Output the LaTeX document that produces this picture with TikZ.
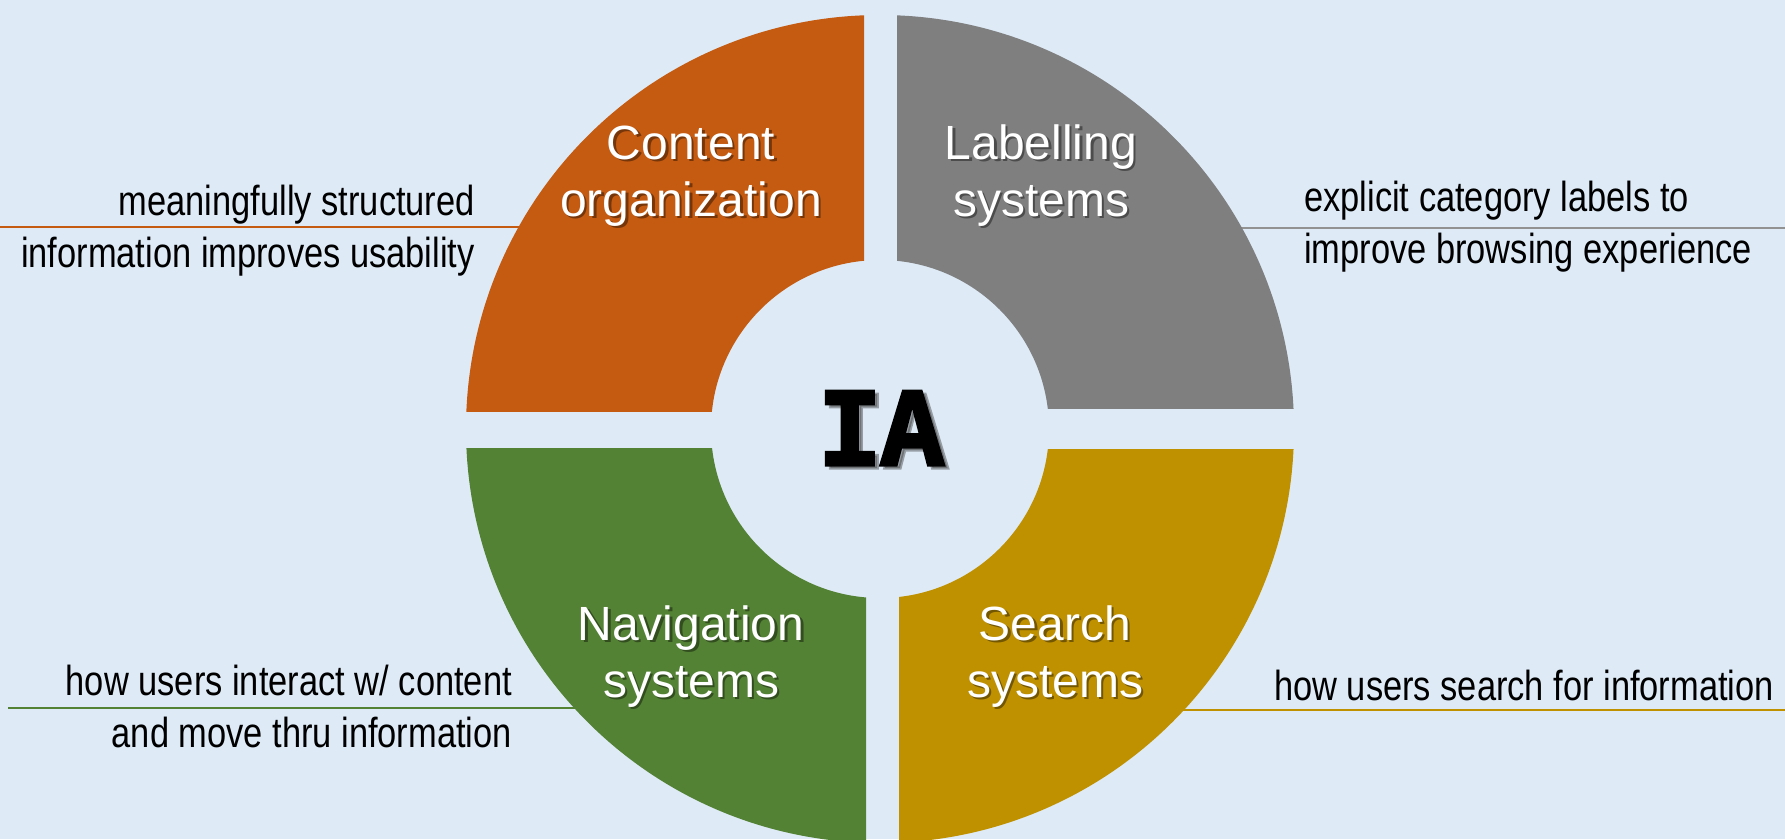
\documentclass[tikz,border=0pt]{standalone}
\usepackage{fontspec}
\setmainfont{Liberation Sans}
\newfontfamily\narrowfont{Liberation Sans}[FakeStretch=0.82]
\newfontfamily\iafont{Liberation Mono}[BoldFeatures={FakeBold=3,FakeStretch=0.93}]
\definecolor{bgblue}{HTML}{DEEBF7}
\definecolor{corange}{HTML}{C55A11}
\definecolor{cgray}{HTML}{7F7F7F}
\definecolor{cgreen}{HTML}{548235}
\definecolor{cgold}{HTML}{BF9000}
\tikzset{
  annot/.style={font=\narrowfont\fontsize{42}{52}\selectfont, inner sep=0pt, text=black},
  seglabel/.style={font=\fontsize{48}{57}\selectfont, align=center, text=white, inner sep=0pt},
  segshadow/.style={seglabel, text=black, opacity=0.4},
  iatext/.style={font=\iafont\bfseries\fontsize{112}{112}\selectfont, inner sep=0pt, anchor=base},
  link/.style={line width=1.4pt},
  sector/.style={even odd rule},
}
\begin{document}
\begin{tikzpicture}[x=1pt,y=-1pt]
\fill[bgblue] (0,0) rectangle (1785,839);
\useasboundingbox (0,0) rectangle (1785,839);
\coordinate (C) at (880,429);

% connectors (drawn first, their inner ends hidden under the sectors)
\coordinate (lo1) at (0,227);    \coordinate (lo2) at (530,227);
\coordinate (lg1) at (1232,228); \coordinate (lg2) at (1785,228);
\coordinate (ln1) at (8,708);    \coordinate (ln2) at (584,708);
\coordinate (ls1) at (1176,710); \coordinate (ls2) at (1785,710);
\draw[link, draw=corange] (lo1) -- (lo2);
\draw[link, draw=cgray!85] (lg1) -- (lg2);
\draw[link, draw=cgreen] (ln1) -- (ln2);
\draw[link, draw=cgold] (ls1) -- (ls2);

% sectors
\begin{scope}
  \clip (0,0) rectangle (864,411);
  \fill[corange, sector] (C) circle[radius=414pt] (C) circle[radius=169pt];
\end{scope}
\begin{scope}
  \clip (897,0) rectangle (1785,408);
  \fill[cgray, sector] (C) circle[radius=414pt] (C) circle[radius=169pt];
\end{scope}
\begin{scope}
  \clip (0,448) rectangle (866,839);
  \fill[cgreen, sector] (C) circle[radius=414pt] (C) circle[radius=169pt];
\end{scope}
\begin{scope}
  \clip (899,449) rectangle (1785,839);
  \fill[cgold, sector] (C) circle[radius=414pt] (C) circle[radius=169pt];
\end{scope}

% sector labels (with soft shadow); base = baseline of the last line
\node[segshadow, anchor=base] (coS) at (693.5,218.5) {Content\\organization};
\node[seglabel, anchor=base] (co) at (691,216) {Content\\organization};
\node[segshadow, anchor=base] (lsS) at (1043.5,218.5) {Labelling\\systems};
\node[seglabel, anchor=base] (ls) at (1041,216) {Labelling\\systems};
\node[segshadow, anchor=base] (nsS) at (693.5,699.5) {Navigation\\systems};
\node[seglabel, anchor=base] (ns) at (691,697) {Navigation\\systems};
\node[segshadow, anchor=base] (ssS) at (1057.5,699.5) {Search\\systems};
\node[seglabel, anchor=base] (ss) at (1055,697) {Search\\systems};

% centre
\node[iatext, text=black!75, opacity=0.45] (iaS) at (885,468) {IA};
\node[iatext, text=black] (ia) at (881,465) {IA};

% annotations
\node[annot, anchor=base east, align=right] (ao) at (475,267) {meaningfully structured\\information improves usability};
\node[annot, anchor=base west, align=left] (ag) at (1304,263) {explicit category labels to\\improve browsing experience};
\node[annot, anchor=base east, align=right] (an) at (512,747) {how users interact w/ content\\and move thru information};
\node[annot, anchor=base west, align=left] (as) at (1274,700) {how users search for information};
\end{tikzpicture}
\end{document}
